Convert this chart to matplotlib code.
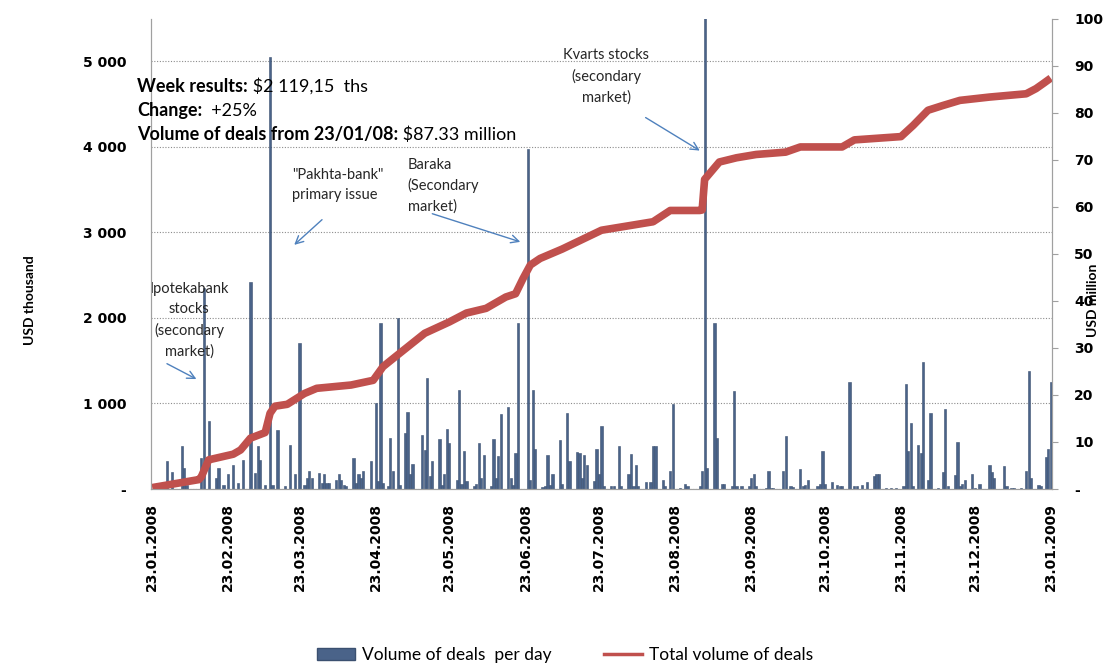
import pandas as pd
import matplotlib
matplotlib.use("Agg")
import matplotlib.pyplot as plt
from matplotlib.patches import Patch
from matplotlib.lines import Line2D
from matplotlib.ticker import FuncFormatter, FixedLocator

# ── daily volume of deals, USD thousand ──
bar_dates = [
    "2008-01-25", "2008-01-26", "2008-01-29", "2008-01-31", "2008-02-04", "2008-02-05", "2008-02-06",
    "2008-02-12", "2008-02-13", "2008-02-15", "2008-02-18", "2008-02-19", "2008-02-21", "2008-02-23",
    "2008-02-25", "2008-02-27", "2008-02-29", "2008-03-03", "2008-03-05", "2008-03-06", "2008-03-07",
    "2008-03-09", "2008-03-11", "2008-03-12", "2008-03-14", "2008-03-17", "2008-03-19", "2008-03-21",
    "2008-03-23", "2008-03-25", "2008-03-26", "2008-03-27", "2008-03-28", "2008-03-31", "2008-04-01",
    "2008-04-02", "2008-04-03", "2008-04-04", "2008-04-07", "2008-04-08", "2008-04-09", "2008-04-10",
    "2008-04-11", "2008-04-14", "2008-04-15", "2008-04-16", "2008-04-17", "2008-04-18", "2008-04-21",
    "2008-04-23", "2008-04-24", "2008-04-25", "2008-04-26", "2008-04-28", "2008-04-29", "2008-04-30",
    "2008-05-02", "2008-05-03", "2008-05-05", "2008-05-06", "2008-05-07", "2008-05-08", "2008-05-12",
    "2008-05-13", "2008-05-14", "2008-05-15", "2008-05-16", "2008-05-19", "2008-05-20", "2008-05-21",
    "2008-05-22", "2008-05-23", "2008-05-26", "2008-05-27", "2008-05-28", "2008-05-29", "2008-05-30",
    "2008-06-02", "2008-06-03", "2008-06-04", "2008-06-05", "2008-06-06", "2008-06-09", "2008-06-10",
    "2008-06-11", "2008-06-12", "2008-06-13", "2008-06-16", "2008-06-17", "2008-06-18", "2008-06-19",
    "2008-06-20", "2008-06-24", "2008-06-25", "2008-06-26", "2008-06-27", "2008-06-30", "2008-07-01",
    "2008-07-02", "2008-07-03", "2008-07-04", "2008-07-07", "2008-07-08", "2008-07-10", "2008-07-11",
    "2008-07-14", "2008-07-15", "2008-07-16", "2008-07-17", "2008-07-18", "2008-07-21", "2008-07-22",
    "2008-07-23", "2008-07-24", "2008-07-25", "2008-07-28", "2008-07-29", "2008-07-31", "2008-08-01",
    "2008-08-04", "2008-08-05", "2008-08-06", "2008-08-07", "2008-08-08", "2008-08-11", "2008-08-13",
    "2008-08-14", "2008-08-15", "2008-08-18", "2008-08-19", "2008-08-21", "2008-08-22", "2008-08-25",
    "2008-08-27", "2008-08-28", "2008-09-02", "2008-09-03", "2008-09-04", "2008-09-05", "2008-09-08",
    "2008-09-09", "2008-09-11", "2008-09-12", "2008-09-15", "2008-09-16", "2008-09-17", "2008-09-19",
    "2008-09-22", "2008-09-23", "2008-09-24", "2008-09-25", "2008-09-29", "2008-09-30", "2008-10-01",
    "2008-10-02", "2008-10-06", "2008-10-07", "2008-10-09", "2008-10-10", "2008-10-13", "2008-10-14",
    "2008-10-15", "2008-10-16", "2008-10-20", "2008-10-21", "2008-10-22", "2008-10-23", "2008-10-26",
    "2008-10-28", "2008-10-29", "2008-10-30", "2008-11-02", "2008-11-04", "2008-11-05", "2008-11-07",
    "2008-11-09", "2008-11-12", "2008-11-13", "2008-11-14", "2008-11-17", "2008-11-19", "2008-11-21",
    "2008-11-24", "2008-11-25", "2008-11-26", "2008-11-27", "2008-11-28", "2008-11-30", "2008-12-01",
    "2008-12-02", "2008-12-04", "2008-12-05", "2008-12-08", "2008-12-10", "2008-12-11", "2008-12-12",
    "2008-12-15", "2008-12-16", "2008-12-17", "2008-12-18", "2008-12-19", "2008-12-22", "2008-12-23",
    "2008-12-25", "2008-12-29", "2008-12-30", "2008-12-31", "2009-01-04", "2009-01-05", "2009-01-07",
    "2009-01-08", "2009-01-11", "2009-01-13", "2009-01-14", "2009-01-15", "2009-01-18", "2009-01-19",
    "2009-01-21", "2009-01-22", "2009-01-23",
]
bar_values = [
    70, 40, 330, 200, 500, 245, 50,
    360, 2350, 790, 130, 245, 50, 170,
    280, 70, 340, 2420, 190, 500, 340,
    50, 5050, 50, 690, 40, 515, 170,
    1710, 50, 130, 205, 130, 185, 70,
    175, 70, 70, 110, 175, 110, 50,
    40, 360, 70, 175, 130, 215, 330,
    1000, 90, 1940, 70, 30, 600, 215,
    2000, 50, 650, 905, 170, 290, 630,
    460, 1295, 150, 330, 590, 50, 170,
    700, 535, 100, 1160, 60, 450, 90,
    30, 60, 535, 130, 400, 40, 590,
    130, 380, 875, 955, 130, 50, 420,
    1940, 3980, 100, 1160, 470, 20, 40,
    400, 50, 175, 575, 60, 885, 330,
    430, 420, 130, 400, 285, 90, 470,
    175, 740, 40, 40, 30, 505, 30,
    170, 410, 30, 285, 30, 80, 80,
    500, 500, 100, 30, 215, 990, 15,
    60, 30, 40, 215, 7000, 245, 1940,
    600, 60, 60, 30, 1140, 30, 30,
    30, 130, 175, 30, 15, 215, 15,
    15, 215, 620, 30, 20, 235, 30,
    50, 100, 30, 60, 450, 60, 80,
    50, 30, 30, 1255, 30, 30, 50,
    80, 150, 170, 175, 15, 15, 15,
    40, 1225, 445, 770, 40, 515, 420,
    1480, 100, 885, 10, 195, 935, 30,
    160, 550, 30, 60, 100, 175, 15,
    60, 285, 200, 130, 265, 40, 15,
    15, 15, 215, 1380, 130, 50, 30,
    370, 470, 1250,
]

# ── total volume of deals since 23/01/08, USD million ──
total_dates = [
    "2008-01-23", "2008-02-11", "2008-02-12", "2008-02-15", "2008-02-25", "2008-02-28", "2008-03-03",
    "2008-03-09", "2008-03-11", "2008-03-13", "2008-03-18", "2008-03-25", "2008-03-30", "2008-04-13",
    "2008-04-22", "2008-04-26", "2008-05-01", "2008-05-07", "2008-05-13", "2008-05-23", "2008-05-30",
    "2008-06-07", "2008-06-15", "2008-06-19", "2008-06-22", "2008-06-25", "2008-06-29", "2008-07-08",
    "2008-07-24", "2008-08-14", "2008-08-21", "2008-09-02", "2008-09-03", "2008-09-04", "2008-09-10",
    "2008-09-17", "2008-09-25", "2008-10-07", "2008-10-13", "2008-10-30", "2008-11-04", "2008-11-23",
    "2008-11-28", "2008-12-04", "2008-12-10", "2008-12-17", "2008-12-29", "2009-01-13", "2009-01-17",
    "2009-01-20", "2009-01-23",
]
total_values = [
    0.3, 2.0, 2.6, 6.2, 7.4, 8.3, 10.8,
    12.0, 16.1, 17.6, 18.0, 20.3, 21.4, 22.1,
    23.1, 26.0, 28.1, 30.6, 33.1, 35.5, 37.4,
    38.4, 40.8, 41.5, 44.7, 47.6, 49.0, 51.0,
    55.0, 56.8, 59.2, 59.2, 59.3, 65.8, 69.5,
    70.4, 71.1, 71.6, 72.7, 72.7, 74.2, 74.9,
    77.3, 80.5, 81.5, 82.6, 83.3, 84.0, 85.1,
    86.2, 87.33,
]

date_ticks = ["2008-01-23", "2008-02-23", "2008-03-23", "2008-04-23", "2008-05-23", "2008-06-23",
              "2008-07-23", "2008-08-23", "2008-09-23", "2008-10-23", "2008-11-23", "2008-12-23",
              "2009-01-23"]
left_ticks = [0, 1000, 2000, 3000, 4000, 5000]
right_ticks = [0, 10, 20, 30, 40, 50, 60, 70, 80, 90, 100]

BAR_COLOR = "#4A6389"
LINE_COLOR = "#C0504D"
ARROW_COLOR = "#4F81BD"
W, H = 1106, 666

fig = plt.figure(figsize=(W / 100, H / 100), dpi=100)
ax = fig.add_axes([151 / W, 1 - 489 / H, (1052 - 151) / W, (489 - 18.5) / H])
ax2 = ax.twinx()

bx = pd.to_datetime(bar_dates)
ax.bar(bx, bar_values, width=0.9, color=BAR_COLOR, edgecolor="#3B5070", linewidth=0.4, zorder=2)
ax.set_ylim(0, 5500)
ax.yaxis.set_major_locator(FixedLocator(left_ticks))
ax.yaxis.set_major_formatter(FuncFormatter(
    lambda v, p: "-" if v == 0 else f"{int(v):,}".replace(",", " ")))
ax.grid(axis="y", linestyle=(0, (1, 1.5)), color="#8C8C8C", linewidth=0.8, zorder=0)
ax.set_axisbelow(True)

tx = pd.to_datetime(total_dates)
ax2.plot(tx, total_values, color=LINE_COLOR, linewidth=5.5, solid_joinstyle="round",
         solid_capstyle="butt")
ax2.set_ylim(0, 100)
ax2.yaxis.set_major_locator(FixedLocator(right_ticks))
ax2.yaxis.set_major_formatter(FuncFormatter(lambda v, p: "-" if v == 0 else f"{int(v)}"))

ax.set_xlim(pd.Timestamp("2008-01-22 12:00"), pd.Timestamp("2009-01-23 12:00"))
ax.set_xticks(pd.to_datetime(date_ticks))
ax.set_xticklabels([pd.Timestamp(d).strftime("%d.%m.%Y") for d in date_ticks],
                   rotation=90, fontweight="bold", fontsize=10, family="DejaVu Sans")

for a in (ax, ax2):
    for s in a.spines.values():
        s.set_color("#A0A0A0")
    a.spines["top"].set_visible(False)
ax.tick_params(axis="x", length=0, pad=10)
ax.tick_params(axis="y", length=0, pad=18, labelsize=10)
ax2.tick_params(axis="y", length=4, color="#A0A0A0", pad=12, labelsize=10)
for lab in ax.get_yticklabels() + ax2.get_yticklabels():
    lab.set_fontweight("bold")

fig.text(30 / W, 1 - 300 / H, "USD thousand", rotation=90, ha="center", va="center",
         fontsize=10, fontweight="bold", family="Lato")
fig.text(1093 / W, 1 - 300 / H, "USD million", rotation=90, ha="center", va="center",
         fontsize=10, fontweight="bold", family="Lato")

# week summary block: bold label followed by regular value
summary = [("Week results:", " $2 119,15  ths", 95),
           ("Change:", "  +25%", 119),
           ("Volume of deals from 23/01/08:", " $87.33 million", 143)]
for bold, normal, ypx in summary:
    t = fig.text(137 / W, 1 - ypx / H, bold, fontsize=13, fontweight="bold", family="Lato",
                 va="bottom")
    ax.annotate(normal, xy=(1, 0), xycoords=t, va="bottom", ha="left", fontsize=13,
                family="Lato", annotation_clip=False)

# event annotations
notes = [
    ("Ipotekabank\nstocks\n(secondary\nmarket)", "2008-02-07", 1970, "center"),
    ("\"Pakhta-bank\"\nprimary issue", "2008-03-20", 3555, "left"),
    ("Baraka\n(Secondary\nmarket)", "2008-05-06", 3543, "left"),
    ("Kvarts stocks\n(secondary\nmarket)", "2008-07-26", 4825, "center"),
]
for text, d, v, ha in notes:
    ax.text(pd.Timestamp(d), v, text, ha=ha, va="center", fontsize=10.5, family="Lato",
            linespacing=1.55, color="#262626", zorder=5)

arrows = [
    ("2008-01-28", 1480, "2008-02-11", 1270),
    ("2008-04-02", 3170, "2008-03-20", 2832),
    ("2008-05-15", 3228, "2008-06-22", 2879),
    ("2008-08-10", 4359, "2008-09-03", 3939),
]
for d0, v0, d1, v1 in arrows:
    ax.annotate("", xy=(pd.Timestamp(d1), v1), xytext=(pd.Timestamp(d0), v0),
                arrowprops=dict(arrowstyle="->", color=ARROW_COLOR, lw=1, mutation_scale=14),
                zorder=5)

handles = [Patch(facecolor=BAR_COLOR, edgecolor="#3B5070"),
           Line2D([], [], color=LINE_COLOR, linewidth=2.5)]
fig.legend(handles, ["Volume of deals  per day", "Total volume of deals"],
           loc="center", bbox_to_anchor=(565 / W, 1 - 655 / H), ncol=2, frameon=False,
           prop={"family": "Lato", "size": 12.5}, handlelength=2.2, columnspacing=3,
           handletextpad=0.4)

fig.savefig("out.png", dpi=100)
